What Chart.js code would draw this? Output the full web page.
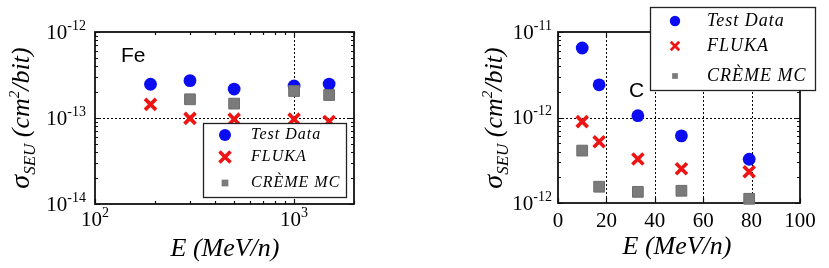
<!DOCTYPE html>
<html>
<head>
<meta charset="utf-8">
<script src="https://cdn.jsdelivr.net/npm/chart.js@4/dist/chart.umd.min.js"></script>
<style>
  html, body { margin: 0; padding: 0; background: #fff; }
  #wrap { position: relative; width: 829px; height: 268px; overflow: hidden; }
  #c1 { position: absolute; left: 0; top: 0; }
  #c2 { position: absolute; left: 420px; top: 0; }
</style>
</head>
<body>
<div id="wrap">
  <canvas id="c1" width="420" height="268"></canvas>
  <canvas id="c2" width="409" height="268"></canvas>
</div>
<script>
// ---------- Data ----------
const seriesNames = ['Test Data', 'FLUKA', 'CRÈME MC'];

// Fe panel
const feEnergy = [190, 300, 500, 1000, 1500];
const feTestData = [2.47e-13, 2.72e-13, 2.17e-13, 2.36e-13, 2.48e-13];
const feFluka = [1.44e-13, 0.99e-13, 0.97e-13, 0.97e-13, 0.91e-13];
const feCremeEnergy = [300, 500, 1000, 1500];
const feCreme = [1.65e-13, 1.47e-13, 2.06e-13, 1.85e-13];

// C panel
const cEnergy = [10, 17, 33, 51, 79];
const cTestData = [6.5e-12, 2.41e-12, 1.05e-12, 6.1e-13, 3.25e-13];
const cFluka = [8.95e-13, 5.2e-13, 3.27e-13, 2.51e-13, 2.32e-13];
const cCreme = [4.1e-13, 1.55e-13, 1.35e-13, 1.39e-13, 1.12e-13];

// Tick labels
const feXTickValues = [100, 1000];
const feXTickExp = ['2', '3'];
const feYTickValues = [1e-14, 1e-13, 1e-12];
const feYTickExp = ['-14', '-13', '-12'];
const cXTickValues = [0, 20, 40, 60, 80, 100];
const cYTickValues = [1e-13, 1e-12, 1e-11];
const cYTickExp = ['-12', '-12', '-11'];   // as printed in the original figure

// ---------- Styles ----------
const BLUE = '#0b0cf0';
const RED = '#ee1414';
const GRAY = '#7b7b7b';
const SERIF = '"Liberation Serif", "DejaVu Serif", serif';
const SANS = '"Liberation Sans", Arial, sans-serif';

function pts(xs, ys) { return xs.map((x, i) => ({ x: x, y: ys[i] })); }

function makeDatasets(xT, yT, xF, yF, xC, yC) {
  return [
    { label: seriesNames[0], data: pts(xT, yT), pointStyle: 'circle', pointRadius: 6.4,
      backgroundColor: BLUE, borderColor: BLUE, borderWidth: 0, order: 2, clip: false },
    { label: seriesNames[1], data: pts(xF, yF), pointStyle: 'crossRot', pointRadius: 7.8,
      backgroundColor: RED, borderColor: RED, borderWidth: 3.6, order: 1, clip: false },
    { label: seriesNames[2], data: pts(xC, yC), pointStyle: 'rect', pointRadius: 7.6,
      backgroundColor: GRAY, borderColor: '#6d6d6d', borderWidth: 1, order: 0, clip: false }
  ];
}

// log-decade tick positions (1..9 x 10^n) inside [min, max]
function logTicks(min, max) {
  const out = [];
  const e0 = Math.floor(Math.log10(min) + 1e-9), e1 = Math.ceil(Math.log10(max) - 1e-9);
  for (let e = e0; e <= e1; e++) {
    for (let m = 1; m <= 9; m++) {
      const v = m * Math.pow(10, e);
      if (v >= min * (1 - 1e-9) && v <= max * (1 + 1e-9)) out.push({ v: v, major: m === 1 });
    }
  }
  return out;
}

function drawSup(ctx, base, exp, x, y, align, bSize, eSize, eRise) {
  ctx.save();
  ctx.fillStyle = '#000';
  ctx.textBaseline = 'middle';
  ctx.textAlign = 'left';
  ctx.font = bSize + 'px ' + SERIF;
  const wb = ctx.measureText(base).width;
  ctx.font = eSize + 'px ' + SERIF;
  const we = ctx.measureText(exp).width;
  const tot = wb + we;
  let sx = x;
  if (align === 'right') sx = x - tot;
  else if (align === 'center') sx = x - tot / 2;
  ctx.font = bSize + 'px ' + SERIF;
  ctx.fillText(base, sx, y);
  ctx.font = eSize + 'px ' + SERIF;
  ctx.fillText(exp, sx + wb, y - eRise);
  ctx.restore();
}

function drawYTitle(ctx, cx, cy) {
  const parts = [
    { t: 'σ', s: 28, dy: 0 },
    { t: 'SEU', s: 17, dy: 6 },
    { t: ' (cm', s: 26, dy: 0 },
    { t: '2', s: 15, dy: -10 },
    { t: '/bit)', s: 26, dy: 0 }
  ];
  ctx.save();
  ctx.translate(cx, cy);
  ctx.rotate(-Math.PI / 2);
  ctx.fillStyle = '#000';
  ctx.textBaseline = 'alphabetic';
  ctx.textAlign = 'left';
  let tot = 0;
  parts.forEach(p => { ctx.font = 'italic ' + p.s + 'px ' + SERIF; p.w = ctx.measureText(p.t).width; tot += p.w; });
  let x = -tot / 2;
  parts.forEach(p => { ctx.font = 'italic ' + p.s + 'px ' + SERIF; ctx.fillText(p.t, x, p.dy); x += p.w; });
  ctx.restore();
}

function drawXTitle(ctx, cx, baseY) {
  ctx.save();
  ctx.fillStyle = '#000';
  ctx.font = 'italic 26px ' + SERIF;
  ctx.textAlign = 'center';
  ctx.textBaseline = 'alphabetic';
  ctx.fillText('E (MeV/n)', cx, baseY);
  ctx.restore();
}

function drawMarker(ctx, kind, x, y, s) {
  ctx.save();
  if (kind === 0) {
    ctx.fillStyle = BLUE;
    ctx.beginPath(); ctx.arc(x, y, s, 0, Math.PI * 2); ctx.fill();
  } else if (kind === 1) {
    ctx.strokeStyle = RED; ctx.lineWidth = s * 0.55; ctx.lineCap = 'butt';
    const d = s * 0.85;
    ctx.beginPath();
    ctx.moveTo(x - d, y - d); ctx.lineTo(x + d, y + d);
    ctx.moveTo(x + d, y - d); ctx.lineTo(x - d, y + d);
    ctx.stroke();
  } else {
    ctx.fillStyle = GRAY;
    ctx.fillRect(x - s * 0.75, y - s * 0.75, s * 1.5, s * 1.5);
  }
  ctx.restore();
}

function drawLegend(ctx, box, mx, tx, ys, fontSize, mSize) {
  ctx.save();
  ctx.fillStyle = '#fff';
  ctx.fillRect(box.x, box.y, box.w, box.h);
  ctx.strokeStyle = '#222';
  ctx.lineWidth = 1.3;
  ctx.strokeRect(box.x, box.y, box.w, box.h);
  ctx.fillStyle = '#000';
  ctx.font = 'italic ' + fontSize + 'px ' + SERIF;
  ctx.textBaseline = 'middle';
  ctx.textAlign = 'left';
  try { ctx.letterSpacing = '1px'; } catch (e) {}
  seriesNames.forEach((n, i) => {
    drawMarker(ctx, i, mx, ys[i], mSize[i]);
    ctx.fillText(n, tx, ys[i]);
  });
  ctx.restore();
}

function frameAndTicks(chart, cfg) {
  const ctx = chart.ctx;
  const a = chart.chartArea;
  const xs = chart.scales.x, ys = chart.scales.y;
  ctx.save();
  // dotted grid
  ctx.strokeStyle = '#000';
  ctx.lineWidth = 1;
  ctx.setLineDash([2, 2]);
  cfg.gridX.forEach(v => {
    const px = Math.round(xs.getPixelForValue(v)) + 0.5;
    ctx.beginPath(); ctx.moveTo(px, a.top); ctx.lineTo(px, a.bottom); ctx.stroke();
  });
  cfg.gridY.forEach(v => {
    const py = Math.round(ys.getPixelForValue(v)) + 0.5;
    ctx.beginPath(); ctx.moveTo(a.left, py); ctx.lineTo(a.right, py); ctx.stroke();
  });
  ctx.setLineDash([]);
  // inward ticks
  ctx.strokeStyle = '#111';
  ctx.lineWidth = 1.2;
  cfg.xTicks.forEach(t => {
    const len = t.major ? 5 : 3;
    const px = Math.round(xs.getPixelForValue(t.v)) + 0.5;
    ctx.beginPath();
    ctx.moveTo(px, a.bottom); ctx.lineTo(px, a.bottom - len);
    ctx.moveTo(px, a.top); ctx.lineTo(px, a.top + len);
    ctx.stroke();
  });
  cfg.yTicks.forEach(t => {
    const len = t.major ? 5 : 3;
    const py = Math.round(ys.getPixelForValue(t.v)) + 0.5;
    ctx.beginPath();
    ctx.moveTo(a.left, py); ctx.lineTo(a.left + len, py);
    ctx.moveTo(a.right, py); ctx.lineTo(a.right - len, py);
    ctx.stroke();
  });
  // frame
  ctx.strokeStyle = '#111';
  ctx.lineWidth = 1.8;
  ctx.strokeRect(a.left, a.top, a.right - a.left, a.bottom - a.top);
  ctx.restore();
}

// ---------- Fe panel ----------
const fePlugin = {
  id: 'feDecor',
  beforeDatasetsDraw(chart) {
    const xs = chart.scales.x, ys = chart.scales.y;
    frameAndTicks(chart, { gridX: [1000], gridY: [1e-13],
      xTicks: logTicks(xs.min, xs.max), yTicks: logTicks(ys.min, ys.max) });
    const ctx = chart.ctx;
    ctx.save();
    ctx.fillStyle = '#000';
    ctx.font = '21px ' + SANS;
    ctx.textBaseline = 'alphabetic';
    ctx.fillText('Fe', 121, 62);
    ctx.restore();
  },
  afterDraw(chart) {
    const ctx = chart.ctx;
    const xs = chart.scales.x, ys = chart.scales.y;
    feYTickValues.forEach((v, i) => drawSup(ctx, '10', feYTickExp[i], 86, ys.getPixelForValue(v) + 1, 'right', 21, 14, 7));
    feXTickValues.forEach((v, i) => drawSup(ctx, '10', feXTickExp[i], xs.getPixelForValue(v), 220, 'center', 21, 14, 7));
    drawYTitle(ctx, 29, 118);
    drawXTitle(ctx, 225, 256);
    drawLegend(ctx, { x: 203.5, y: 123.5, w: 143, h: 74 }, 225, 251, [135, 157, 183], 16, [6, 6.5, 4.5]);
  }
};

new Chart(document.getElementById('c1'), {
  type: 'scatter',
  data: { datasets: makeDatasets(feEnergy, feTestData, feEnergy, feFluka, feCremeEnergy, feCreme) },
  options: {
    responsive: false,
    animation: false,
    devicePixelRatio: 1,
    layout: { padding: { left: 0, right: 66, top: 32, bottom: 0 } },
    plugins: { legend: { display: false }, tooltip: { enabled: false } },
    scales: {
      x: { type: 'logarithmic', min: 100, max: 2000,
           ticks: { display: false }, grid: { display: false }, border: { display: false },
           afterFit: s => { s.height = 64; } },
      y: { type: 'logarithmic', min: 1e-14, max: 1e-12,
           ticks: { display: false }, grid: { display: false }, border: { display: false },
           afterFit: s => { s.width = 95; } }
    }
  },
  plugins: [fePlugin]
});

// ---------- C panel ----------
const cPlugin = {
  id: 'cDecor',
  beforeDatasetsDraw(chart) {
    const ys = chart.scales.y;
    frameAndTicks(chart, { gridX: [20, 40, 60, 80], gridY: [1e-12],
      xTicks: cXTickValues.map(v => ({ v: v, major: true })), yTicks: logTicks(ys.min, ys.max) });
    const ctx = chart.ctx;
    ctx.save();
    ctx.fillStyle = '#000';
    ctx.font = '21px ' + SANS;
    ctx.textBaseline = 'alphabetic';
    ctx.fillText('C', 209, 97);
    ctx.restore();
  },
  afterDraw(chart) {
    const ctx = chart.ctx;
    const xs = chart.scales.x, ys = chart.scales.y;
    cYTickValues.forEach((v, i) => drawSup(ctx, '10', cYTickExp[i], 132, ys.getPixelForValue(v) + 1, 'right', 21, 14, 7));
    ctx.save();
    ctx.fillStyle = '#000';
    ctx.font = '21px ' + SERIF;
    ctx.textAlign = 'center';
    ctx.textBaseline = 'middle';
    cXTickValues.forEach(v => ctx.fillText(String(v), xs.getPixelForValue(v), 221));
    ctx.restore();
    drawYTitle(ctx, 82, 118);
    drawXTitle(ctx, 257, 254);
    drawLegend(ctx, { x: 230.5, y: 7.5, w: 165, h: 83 }, 255, 287, [21, 46, 76], 18, [5.2, 5, 3.8]);
  }
};

new Chart(document.getElementById('c2'), {
  type: 'scatter',
  data: { datasets: makeDatasets(cEnergy, cTestData, cEnergy, cFluka, cEnergy, cCreme) },
  options: {
    responsive: false,
    animation: false,
    devicePixelRatio: 1,
    layout: { padding: { left: 0, right: 29, top: 32, bottom: 0 } },
    plugins: { legend: { display: false }, tooltip: { enabled: false } },
    scales: {
      x: { type: 'linear', min: 0, max: 100,
           ticks: { display: false, stepSize: 20 }, grid: { display: false }, border: { display: false },
           afterFit: s => { s.height = 65; } },
      y: { type: 'logarithmic', min: 1e-13, max: 1e-11,
           ticks: { display: false }, grid: { display: false }, border: { display: false },
           afterFit: s => { s.width = 138; } }
    }
  },
  plugins: [cPlugin]
});
</script>
</body>
</html>
